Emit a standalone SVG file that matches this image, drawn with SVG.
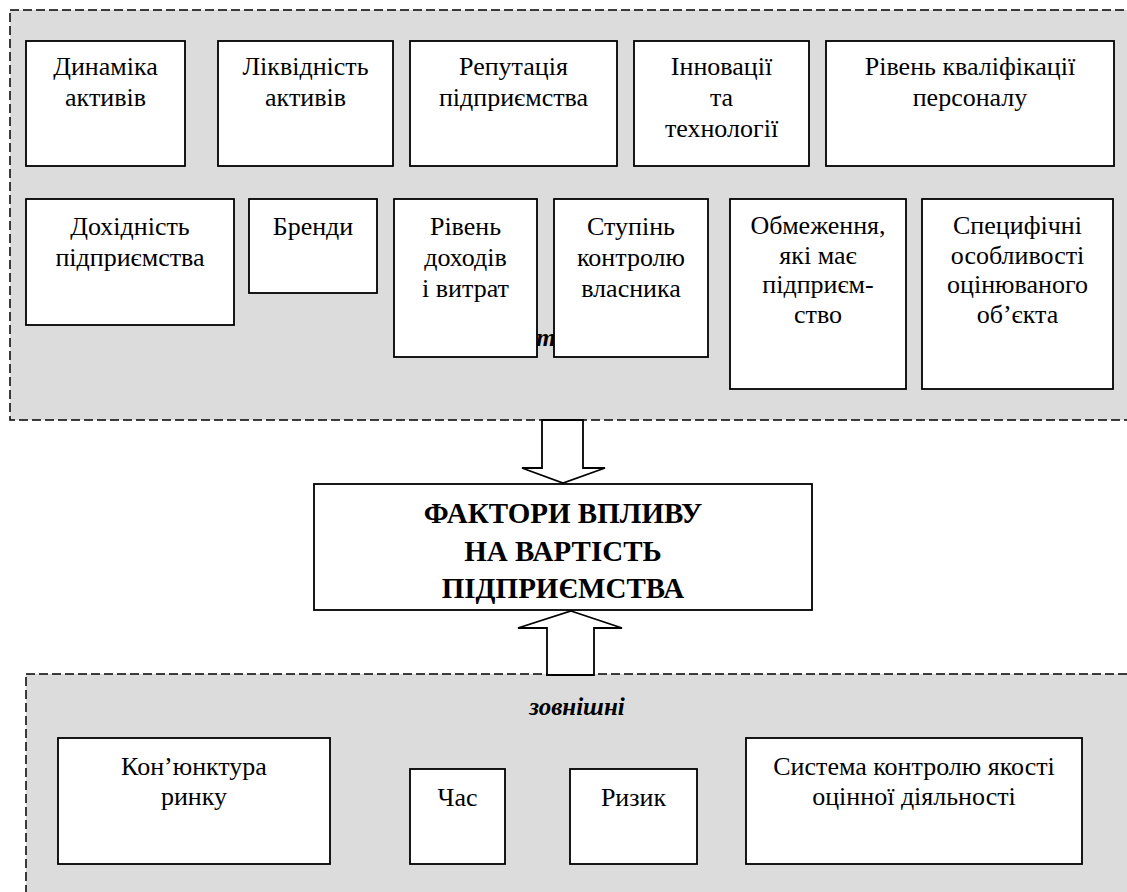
<svg xmlns="http://www.w3.org/2000/svg" width="1127" height="892" viewBox="0 0 1127 892">
<style>
.grp{fill:#dcdcdc;stroke:#000;stroke-width:1.5;stroke-dasharray:9 4}
.box{fill:#fff;stroke:#000;stroke-width:1.8}
text{font-family:'Liberation Serif','Times New Roman',serif;fill:#000}
.t{font-size:26px;text-anchor:middle}
.title{font-size:29px;font-weight:bold;text-anchor:middle}
.lbl{font-size:25px;font-weight:bold;font-style:italic}
.arr{fill:#fff;stroke:#000;stroke-width:1.8;stroke-linejoin:miter}
</style>
<rect width="1127" height="892" fill="#fff"/>
<g id="internal">
<rect class="grp" x="10" y="10" width="1130" height="410"/>
<text class="lbl" x="500" y="346">внутрішні</text>
</g>
<g id="external">
<rect class="grp" x="26" y="674" width="1115" height="230"/>
<text class="lbl" x="577" y="715" text-anchor="middle">зовнішні</text>
</g>
<g id="n1"><rect class="box" x="26" y="41" width="159" height="125"/><text class="t" x="105.5" y="75">Динаміка<tspan x="105.5" dy="31">активів</tspan></text></g>
<g id="n2"><rect class="box" x="218" y="41" width="175" height="125"/><text class="t" x="305.5" y="75">Ліквідність<tspan x="305.5" dy="31">активів</tspan></text></g>
<g id="n3"><rect class="box" x="410" y="41" width="207" height="125"/><text class="t" x="513.5" y="75">Репутація<tspan x="513.5" dy="31">підприємства</tspan></text></g>
<g id="n4"><rect class="box" x="634" y="41" width="175" height="125"/><text class="t" x="721.5" y="75">Інновації<tspan x="721.5" dy="31">та</tspan><tspan x="721.5" dy="31">технології</tspan></text></g>
<g id="n5"><rect class="box" x="826" y="41" width="288" height="125"/><text class="t" x="970" y="75">Рівень кваліфікації<tspan x="970" dy="31">персоналу</tspan></text></g>
<g id="n6"><rect class="box" x="26" y="199" width="208" height="126"/><text class="t" x="130" y="235">Дохідність<tspan x="130" dy="31">підприємства</tspan></text></g>
<g id="n7"><rect class="box" x="249" y="199" width="128" height="94"/><text class="t" x="313" y="235">Бренди</text></g>
<g id="n8"><rect class="box" x="394" y="199" width="143" height="158"/><text class="t" x="465.5" y="235">Рівень<tspan x="465.5" dy="31">доходів</tspan><tspan x="465.5" dy="31">і витрат</tspan></text></g>
<g id="n9"><rect class="box" x="554" y="199" width="154" height="158"/><text class="t" x="631" y="235">Ступінь<tspan x="631" dy="31">контролю</tspan><tspan x="631" dy="31">власника</tspan></text></g>
<g id="n10"><rect class="box" x="730" y="199" width="176" height="190"/><text class="t" x="818" y="234">Обмеження,<tspan x="818" dy="29.5">які має</tspan><tspan x="818" dy="29.5">підприєм-</tspan><tspan x="818" dy="29.5">ство</tspan></text></g>
<g id="n11"><rect class="box" x="922" y="199" width="191" height="190"/><text class="t" x="1017.5" y="234">Специфічні<tspan x="1017.5" dy="29.5">особливості</tspan><tspan x="1017.5" dy="29.5">оцінюваного</tspan><tspan x="1017.5" dy="29.5">об’єкта</tspan></text></g>
<g id="connectors">
<polygon class="arr" points="542,420 583,420 583,468 605,468 563,483 522,468 542,468"/>
<polygon class="arr" points="571,611 622,628 594,628 594,675 547,675 547,628 518,628"/>
</g>
<g id="center"><rect class="box" x="314" y="484" width="498" height="126"/><text class="title" x="563" y="523">ФАКТОРИ ВПЛИВУ<tspan x="563" dy="38">НА ВАРТІСТЬ</tspan><tspan x="563" dy="37">ПІДПРИЄМСТВА</tspan></text></g>
<g id="e1"><rect class="box" x="58" y="738" width="272" height="126"/><text class="t" x="194" y="775">Кон’юнктура<tspan x="194" dy="30">ринку</tspan></text></g>
<g id="e2"><rect class="box" x="410" y="769" width="95" height="95"/><text class="t" x="457.5" y="806">Час</text></g>
<g id="e3"><rect class="box" x="570" y="769" width="127" height="95"/><text class="t" x="633.5" y="806">Ризик</text></g>
<g id="e4"><rect class="box" x="746" y="738" width="336" height="126"/><text class="t" x="914" y="775">Система контролю якості<tspan x="914" dy="30">оцінної діяльності</tspan></text></g>
</svg>
